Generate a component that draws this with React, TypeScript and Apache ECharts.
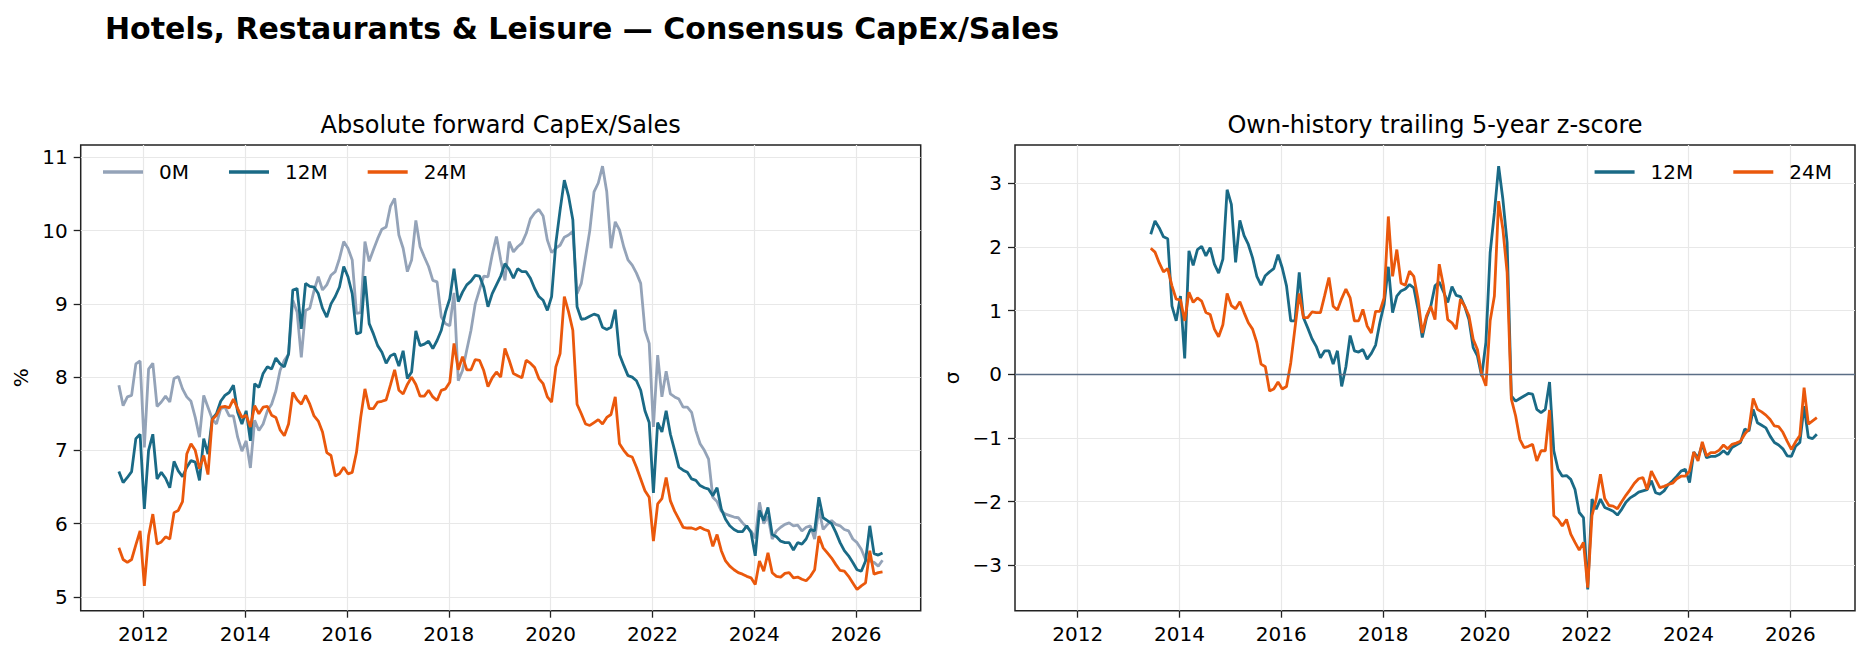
import React, { useEffect, useRef } from "react";
import * as echarts from "echarts";

// ---------- DATA ----------
const startYear = 2011;
const startMonth = 7; // July 2011, monthly through July 2026
const monthCount = 181;
const zStartIndex = 23; // z-score history starts June 2013

const seriesNames = ["0M", "12M", "24M"];

// Absolute forward CapEx/Sales (%)
const capex0M = [
  7.89, 7.61, 7.73, 7.75, 8.18, 8.22, 7.04, 8.11, 8.19, 7.6,
  7.66, 7.74, 7.66, 7.98, 8.01, 7.84, 7.73, 7.67, 7.45, 7.18,
  7.75, 7.59, 7.43, 7.36, 7.57, 7.59, 7.47, 7.47, 7.18, 6.99,
  7.13, 6.76, 7.41, 7.27, 7.36, 7.54, 7.63, 7.81, 8.09, 8.23,
  8.31, 9.05, 8.89, 8.27, 8.91, 8.94, 9.18, 9.37, 9.19, 9.26,
  9.39, 9.44, 9.62, 9.85, 9.76, 9.6, 8.87, 8.88, 9.85, 9.58,
  9.74, 9.89, 10.02, 10.05, 10.33, 10.44, 9.94, 9.76, 9.44, 9.6,
  10.14, 9.78, 9.64, 9.51, 9.32, 9.3, 8.82, 8.73, 8.7, 9.15,
  7.95, 8.09, 8.37, 8.64, 9.0, 9.19, 9.38, 9.37, 9.67, 9.92,
  9.6, 9.32, 9.85, 9.71, 9.78, 9.83, 9.96, 10.16, 10.24, 10.29,
  10.2, 9.87, 9.7, 9.76, 9.8, 9.91, 9.94, 9.99, 9.14, 9.28,
  9.64, 10.0, 10.53, 10.65, 10.88, 10.53, 9.76, 10.12, 10.01, 9.78,
  9.6, 9.53, 9.42, 9.28, 8.64, 8.46, 7.32, 8.3, 7.73, 8.08,
  7.77, 7.73, 7.7, 7.59, 7.59, 7.52, 7.27, 7.09, 7.0, 6.88,
  6.36, 6.3, 6.17, 6.13, 6.11, 6.09, 6.08, 6.01, 5.95, 5.9,
  5.8, 6.29, 6.0, 6.1, 5.79, 5.9, 5.95, 5.99, 6.01, 5.97,
  5.98, 5.9, 5.95, 5.97, 5.79, 6.2, 5.92, 5.99, 6.04, 5.99,
  5.97, 5.92, 5.9, 5.79, 5.74, 5.65, 5.51, 5.49, 5.47, 5.42,
  5.5,
];

const capex12M = [
  6.71, 6.56, 6.63, 6.71, 7.16, 7.22, 6.2, 7.0, 7.22, 6.61,
  6.7, 6.62, 6.49, 6.85, 6.72, 6.64, 6.77, 6.86, 6.84, 6.59,
  7.16, 6.95, 7.43, 7.5, 7.67, 7.75, 7.79, 7.89, 7.52, 7.36,
  7.54, 7.13, 7.91, 7.86, 8.05, 8.14, 8.11, 8.26, 8.18, 8.14,
  8.32, 9.19, 9.21, 8.66, 9.28, 9.24, 9.23, 9.14, 8.94, 8.82,
  9.0, 9.1, 9.23, 9.51, 9.37, 9.14, 8.59, 8.61, 9.38, 8.73,
  8.59, 8.43, 8.34, 8.19, 8.29, 8.32, 8.15, 8.36, 7.98, 8.07,
  8.63, 8.43, 8.45, 8.49, 8.39, 8.5, 8.64, 8.89, 9.07, 9.48,
  9.03, 9.16, 9.26, 9.31, 9.39, 9.38, 9.23, 8.96, 9.14, 9.26,
  9.38, 9.55, 9.47, 9.35, 9.48, 9.44, 9.44, 9.35, 9.21, 9.1,
  9.05, 8.91, 9.1, 9.83, 10.28, 10.69, 10.47, 10.15, 8.96, 8.79,
  8.8, 8.83, 8.86, 8.84, 8.68, 8.65, 8.68, 8.92, 8.31, 8.16,
  8.02, 8.0, 7.95, 7.82, 7.54, 7.38, 6.42, 7.38, 7.25, 7.54,
  7.22, 7.0, 6.77, 6.73, 6.7, 6.61, 6.59, 6.52, 6.49, 6.47,
  6.38, 6.49, 6.2, 6.06, 5.97, 5.92, 5.89, 5.89, 5.97, 5.88,
  5.56, 6.18, 6.04, 6.22, 5.85, 5.82, 5.76, 5.74, 5.74, 5.64,
  5.74, 5.72, 5.79, 5.92, 5.9, 6.36, 6.08, 6.04, 6.0, 5.88,
  5.74, 5.63, 5.56, 5.47, 5.37, 5.35, 5.49, 5.97, 5.59, 5.57,
  5.6,
];

const capex24M = [
  5.67, 5.51, 5.47, 5.51, 5.71, 5.9, 5.15, 5.83, 6.13, 5.72,
  5.75, 5.82, 5.79, 6.15, 6.18, 6.3, 6.95, 7.09, 7.0, 6.75,
  6.93, 6.67, 7.42, 7.48, 7.59, 7.6, 7.58, 7.7, 7.57, 7.45,
  7.48, 7.32, 7.61, 7.5, 7.59, 7.6, 7.48, 7.45, 7.28, 7.2,
  7.36, 7.79, 7.69, 7.63, 7.75, 7.63, 7.47, 7.4, 7.25, 6.97,
  6.93, 6.65, 6.68, 6.77, 6.68, 6.7, 6.97, 7.45, 7.84, 7.57,
  7.57, 7.66, 7.67, 7.69, 7.89, 8.1, 7.82, 7.77, 7.9, 8.0,
  7.9, 7.74, 7.74, 7.82, 7.73, 7.68, 7.82, 7.84, 7.93, 8.46,
  8.1, 8.28, 8.1, 8.1, 8.24, 8.23, 8.09, 7.87, 7.99, 8.07,
  8.0, 8.39, 8.23, 8.05, 8.02, 7.99, 8.23, 8.19, 8.13, 7.98,
  7.91, 7.73, 7.66, 8.14, 8.32, 9.1, 8.89, 8.64, 7.63, 7.5,
  7.36, 7.34, 7.38, 7.42, 7.36, 7.45, 7.49, 7.73, 7.09, 7.0,
  6.93, 6.91, 6.77, 6.61, 6.45, 6.36, 5.76, 6.27, 6.34, 6.63,
  6.31, 6.17, 6.06, 5.95, 5.94, 5.94, 5.92, 5.95, 5.92, 5.9,
  5.69, 5.85, 5.63, 5.49, 5.42, 5.37, 5.33, 5.31, 5.28, 5.26,
  5.17, 5.49, 5.35, 5.6, 5.33, 5.28, 5.27, 5.32, 5.33, 5.26,
  5.27, 5.24, 5.22, 5.28, 5.37, 5.83, 5.67, 5.6, 5.53, 5.44,
  5.36, 5.35, 5.28, 5.19, 5.1, 5.15, 5.19, 5.63, 5.31, 5.33,
  5.34,
];

// Own-history trailing 5-year z-score (sigma), June 2013 onward
const z12M = [
  2.2, 2.41, 2.3, 2.16, 2.13, 1.07, 0.84, 1.23, 0.25, 1.94,
  1.71, 1.96, 2.01, 1.86, 1.99, 1.73, 1.59, 1.81, 2.9, 2.67,
  1.76, 2.42, 2.18, 2.04, 1.83, 1.54, 1.4, 1.55, 1.61, 1.66,
  1.88, 1.67, 1.39, 0.84, 0.84, 1.6, 0.89, 0.73, 0.56, 0.44,
  0.26, 0.37, 0.37, 0.16, 0.37, -0.19, 0.12, 0.61, 0.37, 0.35,
  0.39, 0.24, 0.33, 0.46, 0.81, 1.1, 1.69, 0.97, 1.23, 1.31,
  1.34, 1.41, 1.36, 1.02, 0.58, 0.89, 1.07, 1.39, 1.45, 1.3,
  1.13, 1.38, 1.24, 1.22, 1.07, 0.86, 0.42, 0.29, -0.03, 0.5,
  1.91, 2.54, 3.27, 2.75, 2.07, -0.34, -0.42, -0.38, -0.34, -0.3,
  -0.31, -0.55, -0.6, -0.55, -0.12, -1.2, -1.49, -1.6, -1.59, -1.65,
  -1.81, -2.17, -2.25, -3.38, -1.96, -2.12, -1.96, -2.09, -2.12, -2.15,
  -2.21, -2.12, -2.01, -1.94, -1.9, -1.85, -1.83, -1.81, -1.67, -1.86,
  -1.88, -1.83, -1.73, -1.67, -1.6, -1.52, -1.49, -1.7, -1.22, -1.31,
  -1.1, -1.31, -1.29, -1.29, -1.26, -1.2, -1.26, -1.15, -1.11, -1.07,
  -0.86, -0.89, -0.55, -0.76, -0.8, -0.84, -0.97, -1.07, -1.11, -1.17,
  -1.28, -1.29, -1.13, -1.07, -0.5, -0.99, -1.01, -0.94,
];

const z24M = [
  1.98, 1.92, 1.75, 1.61, 1.66, 1.39, 1.18, 1.17, 0.84, 1.29,
  1.13, 1.2, 1.15, 0.97, 0.94, 0.71, 0.59, 0.78, 1.27, 1.08,
  1.03, 1.14, 0.97, 0.81, 0.71, 0.5, 0.16, 0.12, -0.26, -0.23,
  -0.12, -0.23, -0.19, 0.18, 0.73, 1.27, 0.89, 0.89, 0.98, 0.97,
  0.97, 1.24, 1.52, 1.07, 1.01, 1.19, 1.34, 1.2, 0.84, 0.84,
  1.02, 0.76, 0.65, 0.99, 0.99, 1.2, 2.48, 1.54, 1.96, 1.43,
  1.4, 1.62, 1.54, 1.18, 0.65, 0.92, 1.07, 0.86, 1.73, 1.39,
  0.86, 0.81, 0.71, 1.18, 1.07, 0.92, 0.55, 0.39, 0.0, -0.18,
  0.84, 1.23, 2.72, 2.28, 1.6, -0.39, -0.65, -1.02, -1.15, -1.13,
  -1.1, -1.36, -1.2, -1.2, -0.56, -2.22, -2.28, -2.38, -2.28, -2.51,
  -2.64, -2.76, -2.64, -3.35, -2.22, -1.96, -1.57, -1.95, -2.06, -2.07,
  -2.11, -2.0, -1.9, -1.81, -1.71, -1.64, -1.62, -1.81, -1.52, -1.65,
  -1.78, -1.76, -1.73, -1.71, -1.64, -1.6, -1.6, -1.52, -1.22, -1.36,
  -1.06, -1.28, -1.23, -1.23, -1.19, -1.11, -1.17, -1.1, -1.08, -1.05,
  -0.94, -0.86, -0.38, -0.55, -0.59, -0.64, -0.71, -0.81, -0.82, -0.91,
  -1.05, -1.18, -1.06, -0.96, -0.21, -0.78, -0.73, -0.68,
];

const xTickYears = [2012, 2014, 2016, 2018, 2020, 2022, 2024, 2026];
const leftYTicks = [5, 6, 7, 8, 9, 10, 11];
const rightYTicks = [-3, -2, -1, 0, 1, 2, 3];

const titleText = "Hotels, Restaurants & Leisure \u2014 Consensus CapEx/Sales";
const leftTitle = "Absolute forward CapEx/Sales";
const rightTitle = "Own-history trailing 5-year z-score";
const leftYName = "%";
const rightYName = "\u03c3";

// ---------- STYLE ----------
const COLORS: Record<string, string> = { "0M": "#94a3b8", "12M": "#1a6a86", "24M": "#ea580c" };
const FONT = "DejaVu Sans";
const INK = "#222222";

// month positions (decimal years) derived from the month list
const months: { y: number; m: number }[] = [];
for (let k = 0; k < monthCount; k++) {
  const t = startMonth - 1 + k;
  months.push({ y: startYear + Math.floor(t / 12), m: (t % 12) + 1 });
}
const monthToYear = (p: { y: number; m: number }) => p.y + (p.m - 1) / 12 + 7 / 365;
const xs = months.map(monthToYear);

function pad(min: number, max: number) {
  const r = max - min;
  return [min - 0.05 * r, max + 0.05 * r];
}

export default function App() {
  const ref = useRef<HTMLDivElement>(null);

  useEffect(() => {
    if (!ref.current) return;
    const chart = echarts.init(ref.current, undefined, { renderer: "svg" });

    const [xMin, xMax] = pad(xs[0], xs[xs.length - 1]);
    const leftAll = [...capex0M, ...capex12M, ...capex24M];
    const [lMin, lMax] = pad(Math.min(...leftAll), Math.max(...leftAll));
    const rightAll = [...z12M, ...z24M];
    const [rMin, rMax] = pad(Math.min(...rightAll), Math.max(...rightAll));

    const W = 840;
    const H = 465.7;
    const TOP = 145;
    const L1 = 80.7;
    const L2 = 1015;

    const pairs = (vals: number[], offset: number) => vals.map((v, i) => [xs[i + offset], v]);

    const fmtNum = (v: number) => {
      const r = Math.round(v);
      return r < 0 ? "\u2212" + Math.abs(r) : String(r);
    };

    const xAxisBase = (g: number) => ({
      type: "value",
      gridIndex: g,
      min: xMin,
      max: xMax,
      axisLine: { show: false, onZero: false },
      axisTick: { show: true, length: 7, customValues: xTickYears, lineStyle: { color: INK, width: 1.3 } },
      axisLabel: { customValues: xTickYears, formatter: (v: number) => String(Math.round(v)), fontSize: 20, color: "#000", margin: 13, fontFamily: FONT },
      splitLine: { show: true, lineStyle: { color: "#e8e8e8", width: 1.2 } },
    });
    const yAxisBase = (g: number, min: number, max: number, ticks: number[]) => ({
      type: "value",
      gridIndex: g,
      min,
      max,
      axisLine: { show: false, onZero: false },
      axisTick: { show: true, length: 7, customValues: ticks, lineStyle: { color: INK, width: 1.3 } },
      axisLabel: { customValues: ticks, formatter: fmtNum, fontSize: 20, color: "#000", margin: 13, fontFamily: FONT },
      splitLine: { show: true, lineStyle: { color: "#e8e8e8", width: 1.2 } },
    });

    const lineSeries = (name: string, data: number[][], axis: number, extra: any = {}) => ({
      type: "line",
      name,
      xAxisIndex: axis,
      yAxisIndex: axis,
      data,
      symbol: "none",
      showSymbol: false,
      lineStyle: { color: COLORS[name], width: 2.8 },
      itemStyle: { color: COLORS[name] },
      ...extra,
    });

    const legendBase = {
      orient: "horizontal",
      icon: "rect",
      itemWidth: 40,
      itemHeight: 3.6,
      itemGap: 40,
      selectedMode: false,
      textStyle: { fontSize: 20, color: "#000", fontFamily: FONT, padding: [0, 0, 0, 11] },
    };

    chart.setOption({
      animation: false,
      backgroundColor: "#ffffff",
      textStyle: { fontFamily: FONT },
      grid: [
        { left: L1, top: TOP, width: W, height: H, show: true, borderColor: INK, borderWidth: 1.5, backgroundColor: "transparent" },
        { left: L2, top: TOP, width: W, height: H, show: true, borderColor: INK, borderWidth: 1.5, backgroundColor: "transparent" },
      ],
      xAxis: [xAxisBase(0), xAxisBase(1)],
      yAxis: [yAxisBase(0, lMin, lMax, leftYTicks), yAxisBase(1, rMin, rMax, rightYTicks)],
      legend: [
        { ...legendBase, data: seriesNames, left: 98, top: 157 },
        { ...legendBase, data: seriesNames.slice(1), right: 32, top: 157 },
      ],
      series: [
        lineSeries("0M", pairs(capex0M, 0), 0),
        lineSeries("12M", pairs(capex12M, 0), 0),
        lineSeries("24M", pairs(capex24M, 0), 0),
        lineSeries("12M", pairs(z12M, zStartIndex), 1, {
          markLine: {
            silent: true,
            symbol: "none",
            label: { show: false },
            lineStyle: { color: "#5b6e86", width: 1.4, type: "solid" },
            data: [{ yAxis: 0 }],
          },
        }),
        lineSeries("24M", pairs(z24M, zStartIndex), 1),
      ],
      graphic: [
        { type: "text", left: 105, top: 13, style: { text: titleText, font: `bold 30px ${FONT}`, fill: "#000" } },
        { type: "text", x: L1 + W / 2, y: 125, style: { text: leftTitle, font: `24px ${FONT}`, fill: "#000", textAlign: "center", textVerticalAlign: "middle" } },
        { type: "text", x: L2 + W / 2, y: 125, style: { text: rightTitle, font: `24px ${FONT}`, fill: "#000", textAlign: "center", textVerticalAlign: "middle" } },
        { type: "text", x: 21, y: TOP + H / 2, rotation: Math.PI / 2, style: { text: leftYName, font: `20px ${FONT}`, fill: "#000", textAlign: "center", textVerticalAlign: "middle" } },
        { type: "text", x: 952, y: TOP + H / 2, rotation: Math.PI / 2, style: { text: rightYName, font: `20px ${FONT}`, fill: "#000", textAlign: "center", textVerticalAlign: "middle" } },
      ],
    });

    return () => chart.dispose();
  }, []);

  return <div ref={ref} style={{ position: "fixed", left: 0, top: 0, width: 1869, height: 659, background: "#fff" }} />;
}
